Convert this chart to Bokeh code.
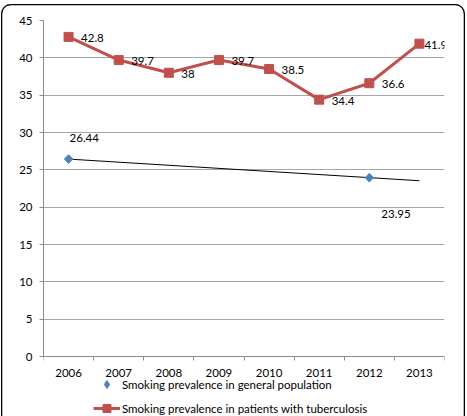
import math
from bokeh.plotting import figure
from bokeh.models import Range1d, FixedTicker, Legend, LegendItem
from bokeh.core.properties import value
from bokeh.embed import file_html
from bokeh.resources import INLINE

# ---- data ----
years = [2006, 2007, 2008, 2009, 2010, 2011, 2012, 2013]
year_labels = ["2006", "2007", "2008", "2009", "2010", "2011", "2012", "2013"]
tb_prevalence = [42.8, 39.7, 38, 39.7, 38.5, 34.4, 36.6, 41.9]
tb_labels = ["42.8", "39.7", "38", "39.7", "38.5", "34.4", "36.6", "41.9"]
gen_years = [2006, 2012]
gen_prevalence = [26.44, 23.95]
gen_labels = ["26.44", "23.95"]
trend_years = [2006, 2013]
trend_values = [26.44, 23.54]
y_ticks = [0, 5, 10, 15, 20, 25, 30, 35, 40, 45]
name_gen = "Smoking prevalence in general population"
name_tb = "Smoking prevalence in patients with tuberculosis"

FONT = "Lato"
FS = "11.5px"
RED = "#C0504D"
BLUE = "#4F81BD"
GRID = "#A6A6A6"
AXIS = "#8C8C8C"

# frame runs from the value axis top (45) down to the bottom of the picture,
# so the legend can sit inside it; 336 px correspond to 45 units.
Y_TOP = 45
Y_BOTTOM = Y_TOP - 396 * Y_TOP / 336

p = figure(width=464, height=412, frame_width=401, frame_height=396,
           output_backend="svg", toolbar_location=None,
           x_range=Range1d(2005.5, 2013.5), y_range=Range1d(Y_BOTTOM, Y_TOP),
           min_border_left=42, min_border_right=21, min_border_top=16,
           min_border_bottom=0)
p.margin = (4, 0, 0, 1)
p.styles = {
    "border-radius": "10px 10px 0 0",
    "box-shadow": "inset 0 1.3px 0 0 #000, inset 1.3px 0 0 0 #000, inset -1.3px 0 0 0 #000",
}
p.outline_line_color = None
p.background_fill_color = "white"
p.border_fill_alpha = 0

# axes
p.xaxis.fixed_location = 0
p.xaxis.ticker = FixedTicker(ticks=years,
                             minor_ticks=[y - 0.5 for y in years] + [years[-1] + 0.5])
p.xaxis.major_label_overrides = {y: l for y, l in zip(years, year_labels)}
p.xaxis.major_tick_line_color = None
p.xaxis.major_tick_out = 0
p.xaxis.major_tick_in = 0
p.xaxis.minor_tick_out = 4
p.xaxis.minor_tick_in = 0
p.xaxis.minor_tick_line_color = AXIS
p.xaxis.major_label_standoff = 8
p.yaxis.ticker = FixedTicker(ticks=y_ticks)
p.yaxis.bounds = (0, Y_TOP)
p.yaxis.minor_tick_line_color = None
p.yaxis.major_tick_out = 4
p.yaxis.major_tick_in = 0
p.yaxis.major_tick_line_color = AXIS
p.yaxis.major_label_standoff = 7
for ax in (p.xaxis, p.yaxis):
    ax.axis_line_color = AXIS
    ax.major_label_text_font = FONT
    ax.major_label_text_font_size = FS
    ax.major_label_text_color = "black"

p.xgrid.grid_line_color = None
p.ygrid.grid_line_color = GRID
p.ygrid.grid_line_width = 1
p.ygrid.bounds = (0, Y_TOP)

# trend line
p.line(trend_years, trend_values, line_color="black", line_width=1)

# general population (diamond used for the legend key, covered by the rotated square)
r_gen_key = p.scatter(gen_years, gen_prevalence, marker="diamond", size=8,
                      fill_color=BLUE, line_color=BLUE)
p.scatter(gen_years, gen_prevalence, marker="square", angle=math.pi / 4,
          size=6, fill_color=BLUE, line_color=BLUE)

# TB patients
r_tb_line = p.line(years, tb_prevalence, line_color=RED, line_width=3)
r_tb_pts = p.scatter(years, tb_prevalence, marker="square", size=9,
                     fill_color=RED, line_color=RED)

# data labels
lab_kw = dict(text_font=value(FONT), text_font_size=FS, text_color="black",
              text_baseline="middle", text_align="left")
p.text(years[:-1], tb_prevalence[:-1], text=tb_labels[:-1], x_offset=12.5, y_offset=1,
       **lab_kw)
p.text(years[-1:], tb_prevalence[-1:], text=tb_labels[-1:], x_offset=5, y_offset=1,
       **lab_kw)
p.text(gen_years[:1], gen_prevalence[:1], text=gen_labels[:1], x_offset=1, y_offset=-21.5,
       **lab_kw)
p.text(gen_years[1:], gen_prevalence[1:], text=gen_labels[1:], x_offset=12, y_offset=36,
       **lab_kw)

legend = Legend(items=[LegendItem(label=name_gen, renderers=[r_gen_key]),
                       LegendItem(label=name_tb, renderers=[r_tb_line, r_tb_pts])],
                location=(50, -2), orientation="vertical",
                glyph_width=27, glyph_height=20, label_height=20, spacing=4,
                padding=0, margin=0, label_standoff=2,
                label_text_font=FONT, label_text_font_size=FS,
                label_text_color="black",
                border_line_color=None, background_fill_alpha=0)
p.add_layout(legend)

open("out.html", "w").write(file_html(p, INLINE))
